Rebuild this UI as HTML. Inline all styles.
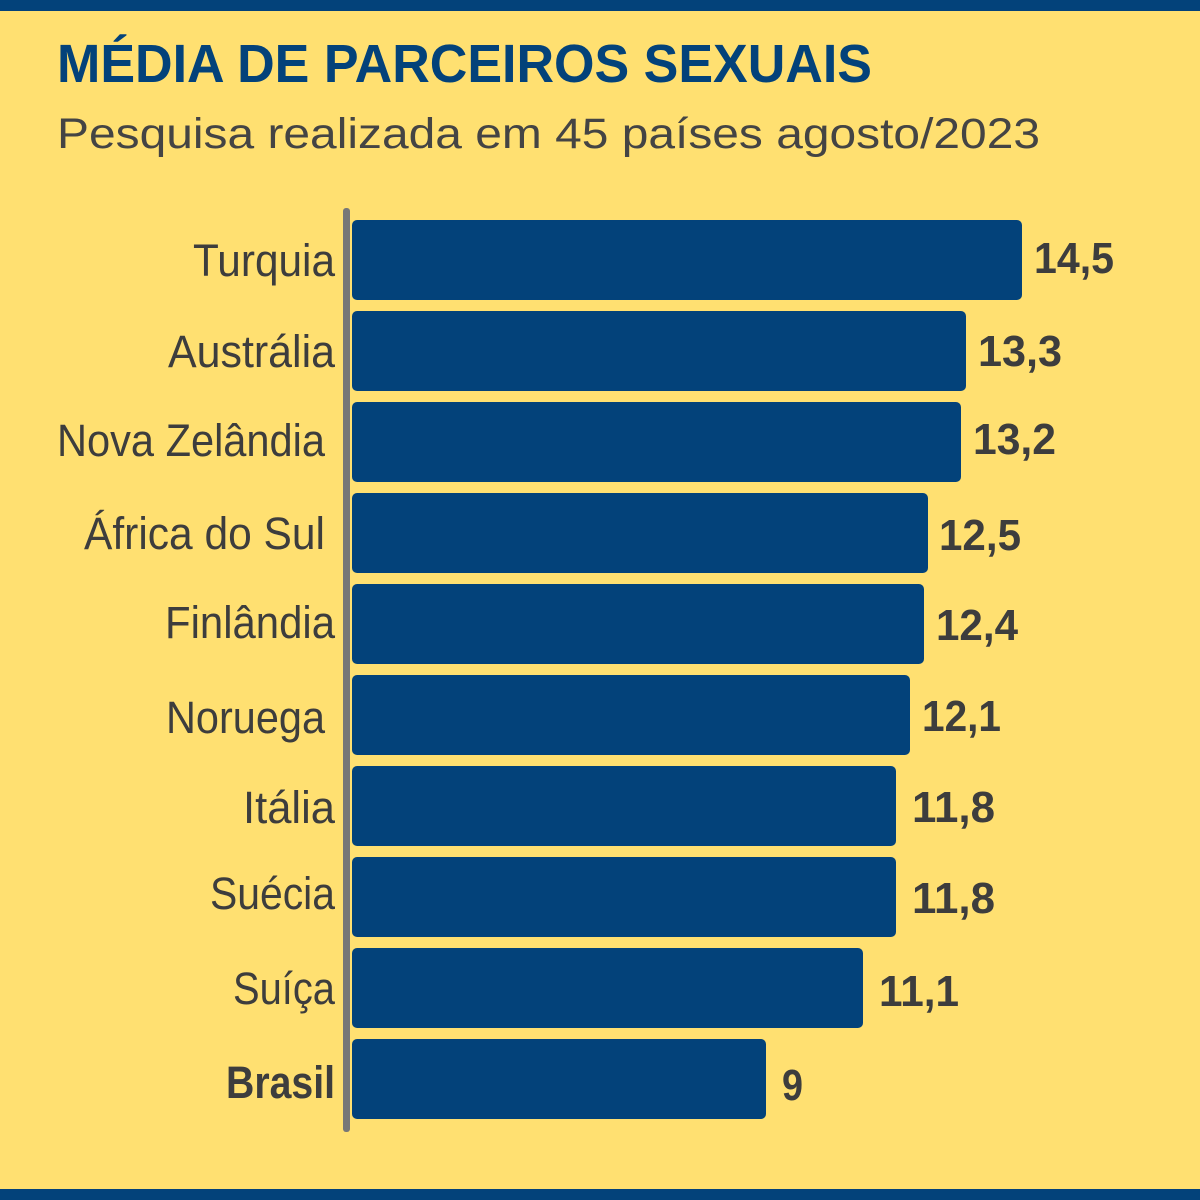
<!DOCTYPE html>
<html><head><meta charset="utf-8"><style>
html,body{margin:0;padding:0;background:#FFE071;}
svg{display:block}
.l{font-family:"Liberation Sans",sans-serif;font-size:45px;fill:#3d3d3d;text-anchor:end}
.v{font-family:"Liberation Sans",sans-serif;font-size:44px;font-weight:bold;fill:#3d3d3d}
</style></head><body>
<svg width="1200" height="1200" viewBox="0 0 1200 1200" xmlns="http://www.w3.org/2000/svg">
<rect width="1200" height="1200" fill="#FFE071"/>
<rect x="0" y="0" width="1200" height="11" fill="#03427A"/>
<rect x="0" y="1189" width="1200" height="11" fill="#03427A"/>
<text x="57" y="82" font-family="Liberation Sans, sans-serif" font-weight="bold" font-size="54" fill="#03427A" textLength="815" lengthAdjust="spacingAndGlyphs">MÉDIA DE PARCEIROS SEXUAIS</text>
<text x="57" y="148" font-family="Liberation Sans, sans-serif" font-size="43" fill="#444" textLength="983" lengthAdjust="spacingAndGlyphs">Pesquisa realizada em 45 países agosto/2023</text>
<rect x="343" y="208" width="7" height="924" rx="3" fill="#777"/>
<g fill="#03427A">
<rect x="352" y="220" width="670" height="80" rx="5"/>
<rect x="352" y="311" width="614" height="80" rx="5"/>
<rect x="352" y="402" width="609" height="80" rx="5"/>
<rect x="352" y="493" width="576" height="80" rx="5"/>
<rect x="352" y="584" width="572" height="80" rx="5"/>
<rect x="352" y="675" width="558" height="80" rx="5"/>
<rect x="352" y="766" width="544" height="80" rx="5"/>
<rect x="352" y="857" width="544" height="80" rx="5"/>
<rect x="352" y="948" width="511" height="80" rx="5"/>
<rect x="352" y="1039" width="414" height="80" rx="5"/>
</g>
<g lengthAdjust="spacingAndGlyphs">
<text class="l" x="335" y="276" textLength="142" lengthAdjust="spacingAndGlyphs">Turquia</text>
<text class="l" x="335" y="367" textLength="167" lengthAdjust="spacingAndGlyphs">Austrália</text>
<text class="l" x="325" y="456" textLength="268" lengthAdjust="spacingAndGlyphs">Nova Zelândia</text>
<text class="l" x="325" y="549" textLength="241" lengthAdjust="spacingAndGlyphs">África do Sul</text>
<text class="l" x="335" y="638" textLength="170" lengthAdjust="spacingAndGlyphs">Finlândia</text>
<text class="l" x="325" y="733" textLength="159" lengthAdjust="spacingAndGlyphs">Noruega</text>
<text class="l" x="335" y="823" textLength="92" lengthAdjust="spacingAndGlyphs">Itália</text>
<text class="l" x="335" y="909" textLength="125" lengthAdjust="spacingAndGlyphs">Suécia</text>
<text class="l" x="335" y="1004" textLength="102" lengthAdjust="spacingAndGlyphs">Suíça</text>
<text class="l" x="335" y="1098" font-weight="bold" textLength="109" lengthAdjust="spacingAndGlyphs">Brasil</text>
<text class="v" x="1034" y="273" textLength="80" lengthAdjust="spacingAndGlyphs">14,5</text>
<text class="v" x="978" y="366" textLength="84" lengthAdjust="spacingAndGlyphs">13,3</text>
<text class="v" x="973" y="454" textLength="83" lengthAdjust="spacingAndGlyphs">13,2</text>
<text class="v" x="939" y="550" textLength="82" lengthAdjust="spacingAndGlyphs">12,5</text>
<text class="v" x="936" y="640" textLength="82" lengthAdjust="spacingAndGlyphs">12,4</text>
<text class="v" x="922" y="731" textLength="79" lengthAdjust="spacingAndGlyphs">12,1</text>
<text class="v" x="912" y="822" textLength="83" lengthAdjust="spacingAndGlyphs">11,8</text>
<text class="v" x="912" y="913" textLength="83" lengthAdjust="spacingAndGlyphs">11,8</text>
<text class="v" x="879" y="1006" textLength="80" lengthAdjust="spacingAndGlyphs">11,1</text>
<text class="v" x="782" y="1100" textLength="21" lengthAdjust="spacingAndGlyphs">9</text>
</g>
</svg>
</body></html>
